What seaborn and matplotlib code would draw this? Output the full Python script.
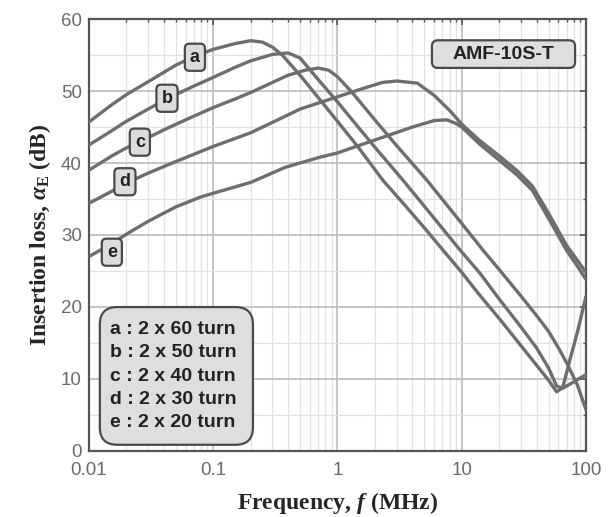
import numpy as np
import pandas as pd
import matplotlib
matplotlib.use("Agg")
import matplotlib.pyplot as plt
from matplotlib.patches import FancyBboxPatch
from matplotlib.ticker import LogLocator, FixedLocator, NullFormatter, MultipleLocator
import seaborn as sns

# Insertion loss curves of the AMF-10S-T filter for five winding counts
a_f = [0.01, 0.015, 0.02, 0.03, 0.05, 0.07, 0.1, 0.15, 0.2, 0.25, 0.3, 0.36, 0.5, 0.7, 1, 1.5,
       2.32, 3.5, 5, 7.06, 10, 14, 20, 30, 40, 50, 58, 65, 74, 85, 100]
a_db = [45.7, 48.0, 49.5, 51.3, 53.6, 54.8, 55.8, 56.6, 57.0, 56.8, 56.1, 55.0, 52.2, 49.1, 45.8, 42.0,
        37.6, 34.1, 31.0, 27.9, 24.8, 21.6, 18.4, 14.6, 11.9, 9.8, 8.2, 8.8, 12.6, 16.4, 21.5]

b_f = [0.01, 0.015, 0.02, 0.03, 0.042, 0.07, 0.1, 0.15, 0.2, 0.3, 0.4, 0.5, 0.7, 1, 1.5, 2,
       3.37, 5, 7, 9.7, 14, 20, 30, 40, 50, 58, 65, 80, 100]
b_db = [42.5, 44.4, 45.8, 47.5, 48.9, 50.7, 51.9, 53.3, 54.2, 55.1, 55.3, 54.6, 51.6, 48.5, 44.8, 42.2,
        37.6, 34.0, 30.9, 27.9, 24.7, 21.1, 17.2, 14.3, 11.5, 9.0, 8.7, 9.6, 10.6]

c_f = [0.01, 0.015, 0.02, 0.026, 0.04, 0.06, 0.1, 0.15, 0.2, 0.3, 0.4, 0.55, 0.7, 0.85, 1, 1.3,
       2, 3, 5.25, 10, 14.8, 20, 30, 40, 50, 60, 70, 85, 100]
c_db = [39.0, 40.9, 42.1, 43.0, 44.6, 46.0, 47.7, 48.9, 49.8, 51.2, 52.2, 52.9, 53.2, 52.9, 52.0, 49.9,
        46.0, 42.4, 37.6, 31.6, 27.9, 25.2, 21.5, 18.8, 16.6, 14.3, 12.2, 9.2, 5.7]

d_f = [0.01, 0.015, 0.02, 0.03, 0.05, 0.1, 0.2, 0.38, 0.5, 0.72, 1, 1.5, 2.3, 3, 4.4, 6, 8, 10,
       14, 20, 28, 37, 50, 70, 85, 100]
d_db = [34.4, 36.0, 37.2, 38.6, 40.2, 42.3, 44.2, 46.5, 47.5, 48.4, 49.2, 50.2, 51.2, 51.4, 51.1, 49.4,
        47.3, 45.4, 43.1, 41.0, 38.9, 36.8, 33.0, 28.5, 26.5, 24.8]

e_f = [0.01, 0.015, 0.02, 0.03, 0.05, 0.08, 0.1, 0.2, 0.38, 0.5, 0.72, 1, 2, 4, 6, 7.6, 9, 10,
       14, 20, 28, 37, 50, 70, 85, 100]
e_db = [27.0, 28.7, 30.1, 31.9, 33.9, 35.3, 35.8, 37.3, 39.4, 40.0, 40.8, 41.4, 43.2, 45.0, 45.9, 46.0,
        45.5, 45.0, 42.6, 40.4, 38.3, 36.2, 32.3, 27.8, 25.7, 23.8]

curve_names = ["a", "b", "c", "d", "e"]
turns = ["2 x 60 turn", "2 x 50 turn", "2 x 40 turn", "2 x 30 turn", "2 x 20 turn"]
# tag positions on each curve (frequency in MHz, loss in dB)
tag_f = [0.0713, 0.0425, 0.0257, 0.0195, 0.0153]
tag_db = [54.7, 49.0, 42.9, 37.4, 27.6]

x_ticks = [0.01, 0.1, 1, 10, 100]
x_ticklabels = ["0.01", "0.1", "1", "10", "100"]
y_ticks = [0, 10, 20, 30, 40, 50, 60]

frames = []
for name, f, db in zip(curve_names, [a_f, b_f, c_f, d_f, e_f], [a_db, b_db, c_db, d_db, e_db]):
    frames.append(pd.DataFrame({"freq": f, "loss": db, "curve": name}))
df = pd.concat(frames, ignore_index=True)

sns.set_style("white")
plt.rcParams["font.family"] = ["Liberation Sans", "DejaVu Sans"]
plt.rcParams["mathtext.fontset"] = "custom"
plt.rcParams["mathtext.rm"] = "Liberation Serif:bold"
plt.rcParams["mathtext.bf"] = "Liberation Serif:bold"
plt.rcParams["mathtext.it"] = "Liberation Serif:bold:italic"

fig = plt.figure(figsize=(6.13, 5.17), dpi=100)
ax = fig.add_axes([0.145, 0.128, 0.811, 0.835])

line_color = "#6e6e6e"
sns.lineplot(data=df, x="freq", y="loss", units="curve", estimator=None, sort=False,
             color=line_color, linewidth=2.4, ax=ax, legend=False, zorder=3)

ax.set_xscale("log")
ax.set_xlim(0.01, 100)
ax.set_ylim(0, 60)

ax.xaxis.set_major_locator(FixedLocator(x_ticks))
ax.set_xticklabels(x_ticklabels)
ax.xaxis.set_minor_locator(LogLocator(base=10, subs=np.arange(2, 10)))
ax.xaxis.set_minor_formatter(NullFormatter())
ax.yaxis.set_major_locator(FixedLocator(y_ticks))
ax.yaxis.set_minor_locator(MultipleLocator(5))

ax.grid(which="major", color="#c0c0c0", linewidth=1.3, zorder=0)
ax.grid(which="minor", color="#e2e2e2", linewidth=0.9, zorder=0)
ax.set_axisbelow(True)

ax.tick_params(which="both", direction="in", top=True, right=True, colors="#555555",
               labelcolor="#6a6a6a", labelsize=13.5)
ax.tick_params(which="major", length=4, width=1.2)
ax.tick_params(which="minor", length=2.5, width=1.0)
ax.tick_params(axis="x", pad=8)
ax.tick_params(axis="y", pad=5)
for sp in ax.spines.values():
    sp.set_color("#555555")
    sp.set_linewidth(1.6)

serif = ["Liberation Serif", "DejaVu Serif"]
ax.set_xlabel(r"Frequency, $\mathit{f}$ (MHz)", fontsize=17, fontweight="bold",
              family=serif, labelpad=8)
ax.set_ylabel(r"Insertion loss, $\alpha_{\rm E}$ (dB)", fontsize=17, fontweight="bold",
              family=serif, labelpad=6)

# curve tags
for name, f, db in zip(curve_names, tag_f, tag_db):
    ax.text(f, db, name, ha="center", va="center", fontsize=13, fontweight="bold", color="#222222",
            zorder=5,
            bbox=dict(boxstyle="round,pad=0.28,rounding_size=0.25", fc="#dcdcdc", ec="#4a4a4a", lw=1.6))

# winding legend box
box = FancyBboxPatch((0.022, 0.014), 0.308, 0.319, transform=ax.transAxes,
                     boxstyle="round,pad=0,rounding_size=0.035", mutation_aspect=497 / 432,
                     fc="#dedede", ec="#4a4a4a", lw=1.6, zorder=5)
ax.add_patch(box)
legend_y = [0.280, 0.227, 0.172, 0.118, 0.065]
for name, t, yy in zip(curve_names, turns, legend_y):
    ax.text(0.042, yy, f"{name} : {t}", transform=ax.transAxes, ha="left", va="center",
            fontsize=14, fontweight="bold", color="#222222", zorder=6)

# model box
model_box = FancyBboxPatch((0.690, 0.887), 0.288, 0.064, transform=ax.transAxes,
                           boxstyle="round,pad=0,rounding_size=0.012", mutation_aspect=497 / 432,
                           fc="#dedede", ec="#4a4a4a", lw=1.6, zorder=5)
ax.add_patch(model_box)
ax.text(0.834, 0.919, "AMF-10S-T", transform=ax.transAxes, ha="center", va="center",
        fontsize=14, fontweight="bold", color="#222222", zorder=6)

fig.savefig("out.png", dpi=100, facecolor="white")
